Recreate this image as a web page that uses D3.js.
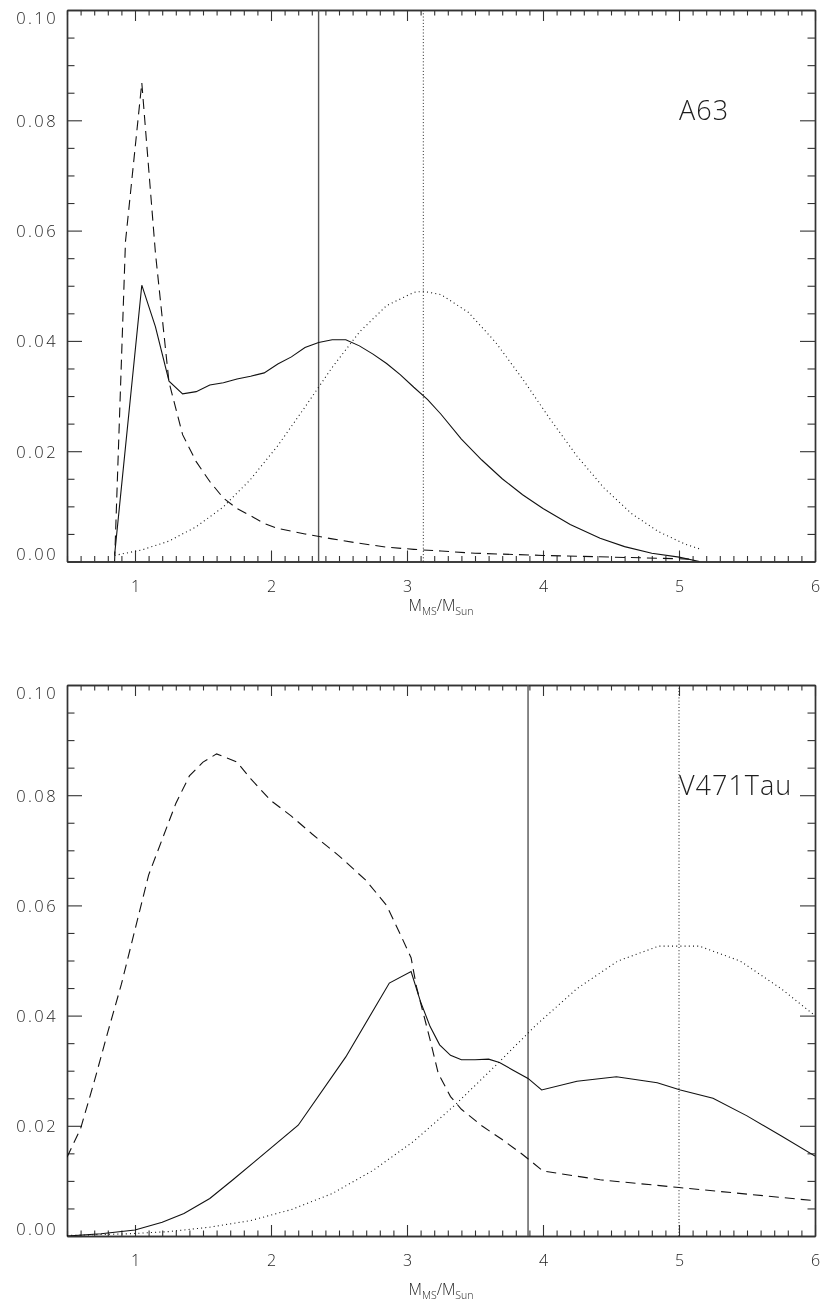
<!DOCTYPE html>
<html>
<head>
<meta charset="utf-8">
<script src="https://cdn.jsdelivr.net/npm/d3@7"></script>
<style>
  html, body { margin: 0; padding: 0; background: #fff; }
  svg { display: block; will-change: transform; }
  text { font-family: "Open Sans", Lato, "DejaVu Sans", sans-serif; font-weight: 300; fill: #1e1e1e; }
</style>
</head>
<body>
<svg id="chart" width="822" height="1303"></svg>
<script>
// Tick values shared by both panels
const xMajorTicks = [1, 2, 3, 4, 5, 6];
const yMajorTicks = [0.00, 0.02, 0.04, 0.06, 0.08, 0.10];
const xDomain = [0.5, 6];
const yDomain = [0, 0.10];

// ---- A63 ----
const a63Name = "A63";
const a63SolidX = [0.85, 1.05, 1.15, 1.25, 1.35, 1.45, 1.55, 1.65, 1.75, 1.85, 1.95, 2.05, 2.15, 2.25, 2.35, 2.45, 2.55, 2.65, 2.75, 2.85, 2.95, 3.05, 3.15, 3.25, 3.4, 3.55, 3.7, 3.85, 4.0, 4.2, 4.42, 4.6, 4.8, 5.0, 5.15];
const a63SolidY = [0.0012, 0.0501, 0.0426, 0.0327, 0.0304, 0.0308, 0.0320, 0.0324, 0.0331, 0.0336, 0.0342, 0.0358, 0.0371, 0.0388, 0.0397, 0.0402, 0.0402, 0.0391, 0.0376, 0.0359, 0.0339, 0.0316, 0.0294, 0.0267, 0.0222, 0.0184, 0.0150, 0.0121, 0.0096, 0.0067, 0.0042, 0.0027, 0.0015, 0.0008, 0.0000];
const a63DashedX = [0.85, 0.93, 1.05, 1.15, 1.25, 1.35, 1.45, 1.55, 1.65, 1.75, 1.85, 1.95, 2.05, 2.25, 2.45, 2.65, 2.85, 3.05, 3.25, 3.5, 4.0, 4.5, 5.0, 5.1];
const a63DashedY = [0.0000, 0.0580, 0.0868, 0.0560, 0.0325, 0.0230, 0.0181, 0.0145, 0.0115, 0.0096, 0.0083, 0.0069, 0.0060, 0.0050, 0.0041, 0.0033, 0.0026, 0.0022, 0.0019, 0.0015, 0.0011, 0.0008, 0.0005, 0.0004];
const a63DottedX = [0.85, 1.05, 1.25, 1.45, 1.65, 1.85, 2.05, 2.25, 2.45, 2.65, 2.85, 3.05, 3.12, 3.25, 3.45, 3.65, 3.85, 4.05, 4.25, 4.45, 4.65, 4.85, 5.05, 5.15];
const a63DottedY = [0.0011, 0.0021, 0.0037, 0.0063, 0.0099, 0.0149, 0.0210, 0.0280, 0.0352, 0.0416, 0.0464, 0.0488, 0.0490, 0.0484, 0.0452, 0.0398, 0.0331, 0.0259, 0.0191, 0.0133, 0.0087, 0.0054, 0.0031, 0.0023];
const a63SolidMark = 2.35;
const a63DottedMark = 3.12;

// ---- V471Tau ----
const v471Name = "V471Tau";
const v471SolidX = [0.5, 0.75, 1.0, 1.2, 1.36, 1.55, 1.72, 1.88, 2.2, 2.55, 2.87, 3.03, 3.1, 3.17, 3.24, 3.32, 3.4, 3.5, 3.6, 3.68, 3.78, 3.89, 3.99, 4.25, 4.54, 4.84, 5.01, 5.25, 5.5, 5.75, 6.0];
const v471SolidY = [0.0000, 0.0004, 0.0011, 0.0025, 0.0041, 0.0068, 0.0102, 0.0135, 0.0201, 0.0325, 0.0459, 0.0480, 0.0425, 0.0380, 0.0347, 0.0328, 0.0320, 0.0320, 0.0321, 0.0315, 0.0301, 0.0286, 0.0265, 0.0281, 0.0289, 0.0278, 0.0265, 0.0250, 0.0218, 0.0182, 0.0145];
const v471DashedX = [0.5, 0.6, 0.7, 0.8, 0.9, 1.0, 1.1, 1.2, 1.3, 1.4, 1.5, 1.6, 1.75, 1.85, 2.0, 2.15, 2.3, 2.5, 2.7, 2.85, 2.95, 3.03, 3.07, 3.12, 3.17, 3.23, 3.32, 3.4, 3.55, 3.7, 3.85, 4.0, 4.42, 5.0, 5.5, 6.0];
const v471DashedY = [0.0143, 0.0195, 0.0280, 0.0370, 0.0457, 0.0556, 0.0655, 0.0720, 0.0785, 0.0835, 0.0860, 0.0875, 0.0860, 0.0830, 0.0790, 0.0762, 0.0730, 0.0690, 0.0645, 0.0600, 0.0548, 0.0505, 0.0452, 0.0404, 0.0356, 0.0295, 0.0253, 0.0230, 0.0200, 0.0175, 0.0148, 0.0118, 0.0102, 0.0088, 0.0076, 0.0064];
const v471DottedX = [0.5, 0.65, 0.95, 1.25, 1.55, 1.85, 2.15, 2.45, 2.75, 3.05, 3.35, 3.65, 3.95, 4.25, 4.55, 4.85, 5.15, 5.45, 5.75, 6.0];
const v471DottedY = [0.0001, 0.0002, 0.0004, 0.0008, 0.0016, 0.0028, 0.0048, 0.0077, 0.0119, 0.0172, 0.0237, 0.0309, 0.0383, 0.0449, 0.0499, 0.0526, 0.0526, 0.0499, 0.0449, 0.0400];
const v471SolidMark = 3.89;
const v471DottedMark = 5.0;

const panels = [
  { name: a63Name, top: 10, bottom: 561.5,
    solid: d3.zip(a63SolidX, a63SolidY), dashed: d3.zip(a63DashedX, a63DashedY), dotted: d3.zip(a63DottedX, a63DottedY),
    markSolid: a63SolidMark, markDotted: a63DottedMark, titleY: 611 },
  { name: v471Name, top: 685, bottom: 1236,
    solid: d3.zip(v471SolidX, v471SolidY), dashed: d3.zip(v471DashedX, v471DashedY), dotted: d3.zip(v471DottedX, v471DottedY),
    markSolid: v471SolidMark, markDotted: v471DottedMark, titleY: 1295 }
];

const left = 67, right = 815;
const svg = d3.select("#chart");

function minorRange(a, b, step) {
  const out = [];
  for (let i = Math.round(a / step); i * step <= b + 1e-9; i++) out.push(+(i * step).toFixed(4));
  return out;
}
const xMinor = minorRange(0.5, 6, 0.1).filter(v => Math.abs(v - Math.round(v)) > 1e-6);
const yMinor = minorRange(0, 0.1, 0.005).filter(v => Math.abs(v / 0.02 - Math.round(v / 0.02)) > 1e-6);

panels.forEach(p => {
  const x = d3.scaleLinear().domain(xDomain).range([left, right]);
  const y = d3.scaleLinear().domain(yDomain).range([p.bottom, p.top]);
  const g = svg.append("g");

  const clipId = "clip-" + p.name;
  g.append("clipPath").attr("id", clipId)
    .append("rect").attr("x", left).attr("y", p.top).attr("width", right - left).attr("height", p.bottom - p.top);

  // Axes: major + minor ticks pointing inward on all four sides
  const axisStyle = sel => {
    sel.select(".domain").attr("stroke", "#333").attr("stroke-width", 1.4);
    sel.selectAll(".tick line").attr("stroke", "#333").attr("stroke-width", 1.1);
  };
  const noLabels = () => "";

  g.append("g").attr("transform", `translate(0,${p.bottom})`)
    .call(d3.axisBottom(x).tickValues(xMinor).tickSizeInner(-5.5).tickSizeOuter(0).tickFormat(noLabels)).call(axisStyle);
  const bx = g.append("g").attr("transform", `translate(0,${p.bottom})`)
    .call(d3.axisBottom(x).tickValues(xMajorTicks).tickSizeInner(-11).tickSizeOuter(0).tickPadding(19).tickFormat(d3.format("d")))
    .call(axisStyle);
  bx.selectAll("text").attr("font-size", 16);

  g.append("g").attr("transform", `translate(0,${p.top})`)
    .call(d3.axisTop(x).tickValues(xMinor).tickSizeInner(-5.5).tickSizeOuter(0).tickFormat(noLabels)).call(axisStyle);
  g.append("g").attr("transform", `translate(0,${p.top})`)
    .call(d3.axisTop(x).tickValues(xMajorTicks).tickSizeInner(-11).tickSizeOuter(0).tickFormat(noLabels)).call(axisStyle);

  g.append("g").attr("transform", `translate(${left},0)`)
    .call(d3.axisLeft(y).tickValues(yMinor).tickSizeInner(-7.5).tickSizeOuter(0).tickFormat(noLabels)).call(axisStyle);
  const ly = g.append("g").attr("transform", `translate(${left},0)`)
    .call(d3.axisLeft(y).tickValues(yMajorTicks).tickSizeInner(-15).tickSizeOuter(0).tickPadding(9).tickFormat(d3.format(".2f")))
    .call(axisStyle);
  ly.selectAll("text").attr("font-size", 16.5).attr("letter-spacing", 2.4)
    .attr("dy", d => d === 0 ? "-0.12em" : (d >= 0.1 - 1e-9 ? "0.8em" : "0.36em"));

  g.append("g").attr("transform", `translate(${right},0)`)
    .call(d3.axisRight(y).tickValues(yMinor).tickSizeInner(-7.5).tickSizeOuter(0).tickFormat(noLabels)).call(axisStyle);
  g.append("g").attr("transform", `translate(${right},0)`)
    .call(d3.axisRight(y).tickValues(yMajorTicks).tickSizeInner(-15).tickSizeOuter(0).tickFormat(noLabels)).call(axisStyle);
  g.selectAll(".domain").attr("fill", "none");
  g.selectAll("text").attr("font-family", null).attr("fill", null);

  // Vertical markers
  g.append("line").attr("x1", x(p.markSolid)).attr("x2", x(p.markSolid))
    .attr("y1", y(0)).attr("y2", y(0.1)).attr("stroke", "#555").attr("stroke-width", 1.4);
  g.append("line").attr("x1", x(p.markDotted)).attr("x2", x(p.markDotted))
    .attr("y1", y(0)).attr("y2", y(0.1)).attr("stroke", "#222").attr("stroke-width", 1)
    .attr("stroke-dasharray", "1,2.2");

  const line = d3.line().x(d => x(d[0])).y(d => y(d[1]));
  const curves = g.append("g").attr("clip-path", `url(#${clipId})`).attr("fill", "none");
  curves.append("path").attr("d", line(p.solid)).attr("stroke", "#111").attr("stroke-width", 1.1);
  curves.append("path").attr("d", line(p.dashed)).attr("stroke", "#111").attr("stroke-width", 1.1)
    .attr("stroke-dasharray", "10,6");
  curves.append("path").attr("d", line(p.dotted)).attr("stroke", "#111").attr("stroke-width", 1.1)
    .attr("stroke-dasharray", "1,3.2");

  // Object name
  g.append("text").attr("x", x(5.0)).attr("y", y(0.08)).attr("font-size", 27).attr("letter-spacing", 1).text(p.name);

  // X axis title: M_MS / M_Sun
  const t = g.append("text").attr("x", (left + right) / 2).attr("y", p.titleY)
    .attr("text-anchor", "middle").attr("font-size", 15.5);
  t.append("tspan").text("M");
  t.append("tspan").attr("font-size", 10.5).attr("dy", 4).text("MS");
  t.append("tspan").attr("dy", -4).text("/M");
  t.append("tspan").attr("font-size", 10.5).attr("dy", 4).text("Sun");
});
</script>
</body>
</html>
